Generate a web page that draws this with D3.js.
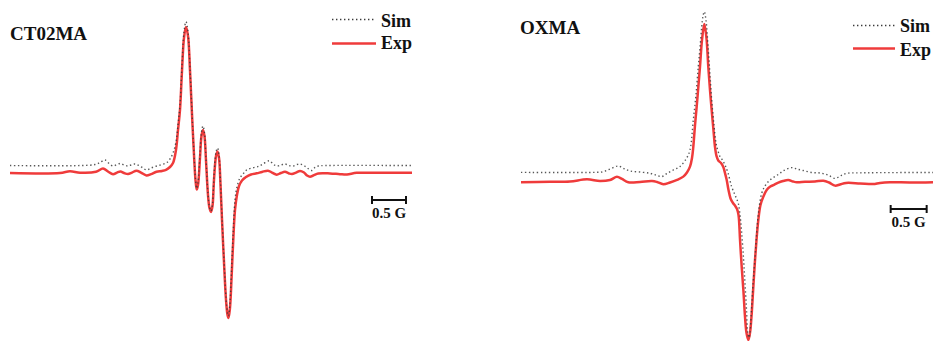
<!DOCTYPE html>
<html><head><meta charset="utf-8">
<script src="https://cdn.jsdelivr.net/npm/d3@7/dist/d3.min.js"></script>
<style>
html,body{margin:0;padding:0;background:#fff;}
svg{display:block;}
text{font-family:"Liberation Serif","Times New Roman",serif;font-weight:bold;fill:#111;}
</style></head>
<body>
<svg id="chart" width="935" height="341"></svg>
<script>
// ---- DATA (field offset in G, normalised intensity) ----
const panelTitles = ["CT02MA", "OXMA"];
const legendLabels = ["Sim", "Exp"];
const scaleBarLabel = "0.5 G";
const scaleBarLength = 0.5; // G

// CT02MA experimental spectrum [B, I]
const ct02maExpB = [-2.956,-2.221,-2.074,-1.926,-1.691,-1.588,-1.515,-1.441,-1.382,-1.331,-1.279,-1.221,-1.162,-1.096,-1.029,-0.949,-0.882,-0.801,-0.721,-0.662,-0.603,-0.559,-0.515,-0.485,-0.456,-0.426,-0.397,-0.368,-0.338,-0.309,-0.279,-0.25,-0.228,-0.210,-0.191,-0.162,-0.140,-0.118,-0.096,-0.074,-0.044,-0.022,0,0.022,0.044,0.074,0.096,0.118,0.140,0.162,0.191,0.221,0.243,0.257,0.279,0.301,0.324,0.353,0.382,0.412,0.456,0.515,0.588,0.672,0.750,0.838,0.897,0.966,1.029,1.088,1.147,1.191,1.25,1.309,1.368,1.412,1.456,1.515,1.578,1.75,1.897,2.0,2.143,2.485,2.956];
const ct02maExpI = [0,0,0.012,0.002,0.008,0.031,0.010,-0.009,0.003,0.010,0,-0.007,0.003,0.016,0.003,-0.017,-0.008,0.009,0.014,0.021,0.041,0.068,0.158,0.295,0.432,0.705,0.925,1.0,0.938,0.705,0.397,0.123,-0.048,-0.113,-0.082,0.103,0.253,0.295,0.253,0.089,-0.151,-0.240,-0.267,-0.226,-0.048,0.116,0.147,0.103,-0.082,-0.322,-0.610,-0.870,-0.973,-0.993,-0.925,-0.733,-0.493,-0.253,-0.151,-0.089,-0.051,-0.027,-0.010,-0.002,0.007,0.016,0.003,-0.012,0,0.008,-0.003,-0.007,0.003,0.014,0.003,-0.017,-0.026,-0.014,-0.003,-0.003,-0.008,-0.010,0.001,0.001,0.001];

// CT02MA simulated spectrum [B, I]
const ct02maSimB = [-2.956,-1.926,-1.706,-1.632,-1.559,-1.5,-1.441,-1.382,-1.331,-1.279,-1.221,-1.176,-1.118,-1.059,-1,-0.946,-0.882,-0.799,-0.721,-0.651,-0.603,-0.559,-0.515,-0.485,-0.456,-0.426,-0.397,-0.368,-0.338,-0.309,-0.279,-0.25,-0.228,-0.210,-0.191,-0.162,-0.140,-0.118,-0.096,-0.074,-0.044,-0.022,0,0.022,0.044,0.074,0.096,0.118,0.140,0.162,0.191,0.221,0.243,0.257,0.279,0.301,0.324,0.353,0.382,0.426,0.471,0.525,0.603,0.696,0.765,0.857,0.912,0.966,1.029,1.088,1.147,1.21,1.265,1.309,1.368,1.426,1.481,1.529,1.578,1.676,2.956];
const ct02maSimI = [0.051,0.051,0.058,0.072,0.089,0.065,0.048,0.058,0.065,0.055,0.048,0.055,0.062,0.051,0.034,0.021,0.034,0.048,0.058,0.071,0.096,0.137,0.212,0.329,0.466,0.740,0.966,1.036,0.966,0.719,0.411,0.130,-0.041,-0.106,-0.068,0.130,0.281,0.322,0.274,0.103,-0.144,-0.233,-0.260,-0.212,-0.021,0.144,0.171,0.123,-0.068,-0.308,-0.596,-0.856,-0.959,-0.979,-0.890,-0.678,-0.432,-0.185,-0.096,-0.034,-0.007,0.021,0.034,0.045,0.062,0.084,0.062,0.048,0.055,0.062,0.051,0.048,0.058,0.062,0.051,0.031,0.017,0.038,0.048,0.051,0.051];

// OXMA experimental spectrum [B, I]
const oxmaExpB = [-2.861,-2.458,-2.181,-1.944,-1.764,-1.625,-1.528,-1.458,-1.371,-1.208,-1.042,-0.972,-0.885,-0.792,-0.694,-0.607,-0.556,-0.514,-0.486,-0.468,-0.444,-0.421,-0.396,-0.375,-0.347,-0.315,-0.285,-0.260,-0.236,-0.213,-0.188,-0.167,-0.146,-0.121,-0.083,-0.051,-0.028,-0.004,0.021,0.049,0.083,0.111,0.139,0.160,0.181,0.204,0.229,0.25,0.271,0.296,0.319,0.340,0.363,0.389,0.413,0.435,0.465,0.504,0.551,0.597,0.653,0.713,0.778,0.851,0.917,0.972,1.083,1.222,1.338,1.417,1.5,1.569,1.653,1.847,2.028,2.125,2.264,2.542,2.861];
const oxmaExpI = [-0.002,0.001,0.003,0.017,0.006,0.013,0.033,0.019,-0.002,0,0.006,0,-0.014,-0.003,0.013,0.034,0.060,0.097,0.152,0.223,0.361,0.477,0.614,0.730,0.899,1.0,0.911,0.730,0.582,0.456,0.329,0.223,0.165,0.136,0.120,0.095,0.057,0.013,-0.051,-0.104,-0.133,-0.149,-0.171,-0.209,-0.367,-0.536,-0.696,-0.853,-0.956,-1.0,-0.956,-0.853,-0.684,-0.494,-0.348,-0.241,-0.146,-0.093,-0.051,-0.030,-0.018,-0.004,0.006,0.013,0.003,-0.002,0.001,0.003,0.008,-0.003,-0.023,-0.016,-0.006,-0.009,-0.013,-0.006,-0.002,-0.003,-0.001];

// OXMA simulated spectrum [B, I]
const oxmaSimB = [-2.861,-1.833,-1.718,-1.611,-1.51,-1.431,-1.347,-1.208,-1.069,-0.986,-0.907,-0.833,-0.746,-0.653,-0.560,-0.514,-0.468,-0.431,-0.399,-0.375,-0.351,-0.333,-0.315,-0.292,-0.260,-0.236,-0.213,-0.181,-0.153,-0.125,-0.097,-0.063,-0.028,0.014,0.065,0.111,0.157,0.181,0.204,0.229,0.25,0.271,0.288,0.306,0.319,0.340,0.363,0.389,0.413,0.438,0.482,0.528,0.597,0.690,0.792,0.899,0.972,1.056,1.181,1.292,1.403,1.5,1.583,1.663,1.847,2.861];
const oxmaSimI = [0.061,0.061,0.065,0.085,0.101,0.085,0.070,0.063,0.055,0.044,0.034,0.054,0.076,0.098,0.152,0.203,0.392,0.551,0.730,0.848,0.983,1.051,1.078,1.025,0.835,0.677,0.519,0.361,0.247,0.196,0.160,0.139,0.108,0.057,-0.030,-0.082,-0.135,-0.209,-0.323,-0.481,-0.639,-0.810,-0.956,-0.985,-0.956,-0.810,-0.639,-0.481,-0.323,-0.190,-0.072,-0.025,0.013,0.041,0.073,0.091,0.082,0.073,0.060,0.057,0.044,0.023,0.041,0.055,0.058,0.060];

// ---- LAYOUT ----
const panels = [
  {title: panelTitles[0], expB: ct02maExpB, expI: ct02maExpI, simB: ct02maSimB, simI: ct02maSimI,
   xr: [10, 412], yr: [319, 27], titleX: 10, titleY: 40,
   legX: [332, 376], legY: [19.5, 43.5], legTextX: 381, legTextY: [26.5, 49],
   barY: 200, barLabelY: 218},
  {title: panelTitles[1], expB: oxmaExpB, expI: oxmaExpI, simB: oxmaSimB, simI: oxmaSimI,
   xr: [521, 933], yr: [340, 24], titleX: 520, titleY: 34,
   legX: [853, 895], legY: [25.5, 48.5], legTextX: 900, legTextY: [32, 55.5],
   barY: 209, barLabelY: 226.5}
];

const svg = d3.select("#chart");
const red = "#ef3b3b";
const simColor = "#3a3a3a";

panels.forEach(p => {
  const bMax = d3.max(p.expB);
  const bMin = d3.min(p.expB);
  const x = d3.scaleLinear().domain([bMin, bMax]).range(p.xr);
  const y = d3.scaleLinear().domain([-1, 1]).range(p.yr);
  const line = d3.line().x(d => x(d[0])).y(d => y(d[1])).curve(d3.curveCatmullRom.alpha(0.5));
  const g = svg.append("g");

  const exp = p.expB.map((b, i) => [b, p.expI[i]]);
  const sim = p.simB.map((b, i) => [b, p.simI[i]]);

  g.append("path").attr("d", line(exp)).attr("fill", "none")
    .attr("stroke", red).attr("stroke-width", 2.5).attr("stroke-linejoin", "round");
  g.append("path").attr("d", line(sim)).attr("fill", "none")
    .attr("stroke", simColor).attr("stroke-width", 1.4)
    .attr("stroke-dasharray", "1.4,2.6").attr("stroke-opacity", 0.85);

  // title
  g.append("text").attr("x", p.titleX).attr("y", p.titleY)
    .style("font-size", "19px").text(p.title);

  // legend
  g.append("line").attr("x1", p.legX[0]).attr("x2", p.legX[1])
    .attr("y1", p.legY[0]).attr("y2", p.legY[0])
    .attr("stroke", simColor).attr("stroke-width", 1.4).attr("stroke-dasharray", "1.4,2.6");
  g.append("line").attr("x1", p.legX[0]).attr("x2", p.legX[1])
    .attr("y1", p.legY[1]).attr("y2", p.legY[1])
    .attr("stroke", red).attr("stroke-width", 2.5);
  legendLabels.forEach((lab, i) => {
    g.append("text").attr("x", p.legTextX).attr("y", p.legTextY[i])
      .style("font-size", "18px").text(lab);
  });

  // scale bar (0.5 G) using the field scale
  const bs = bMax - 0.588;
  const be = bs + scaleBarLength;
  const xs = x(bs), xe = x(be);
  g.append("line").attr("x1", xs).attr("x2", xe).attr("y1", p.barY).attr("y2", p.barY)
    .attr("stroke", "#111").attr("stroke-width", 2);
  [xs, xe].forEach(xx => g.append("line").attr("x1", xx).attr("x2", xx)
    .attr("y1", p.barY - 4).attr("y2", p.barY + 4).attr("stroke", "#111").attr("stroke-width", 2));
  g.append("text").attr("x", (xs + xe) / 2).attr("y", p.barLabelY)
    .attr("text-anchor", "middle").style("font-size", "15px").text(scaleBarLabel);
});
</script>
</body></html>
